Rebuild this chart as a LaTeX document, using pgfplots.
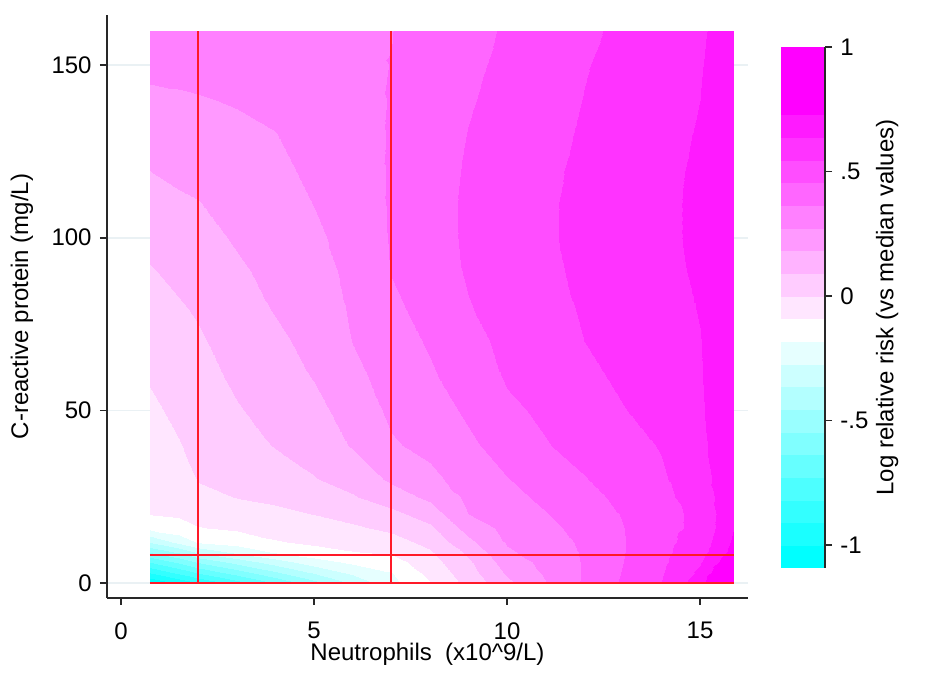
\documentclass[border=0pt]{standalone}
\usepackage{fontspec}
\setmainfont{Liberation Sans}
\usepackage{pgfplots}
\pgfplotsset{compat=1.18}
\definecolor{gridc}{RGB}{234,241,244}
\definecolor{axc}{RGB}{40,40,40}
\definecolor{refred}{RGB}{255,25,40}
\begin{document}
\fontsize{12}{14.4}\selectfont
\begin{tikzpicture}
\path[use as bounding box] (0,0) rectangle (472pt,345pt);
\begin{axis}[
  at={(53.5pt,46pt)}, anchor=south west,
  scale only axis, width=320.5pt, height=291.5pt,
  xmin=-0.363, xmax=16.243, ymin=-4.34, ymax=164.5,
  axis lines*=left,
  axis line style={axc, line width=0.8pt},
  xtick={0,5,10,15}, ytick={0,50,100,150},
  tick align=outside, major tick length=3.5pt,
  tick style={axc, line width=0.8pt},
  /pgf/number format/assume math mode=true,
  xticklabel style={yshift=-4.5pt},
  ymajorgrids, grid style={gridc, line width=0.8pt},
  xlabel={Neutrophils\ \ (x10\textasciicircum 9/L)},
  ylabel={C-reactive protein (mg/L)},
  every axis x label/.style={at={(axis description cs:0.5,-0.096)}, anchor=center},
  every axis y label/.style={at={(axis description cs:-0.1326,0.5)}, anchor=center, rotate=90},
  colormap={stata}{rgb255(0pt)=(0,255,255) rgb255(1pt)=(26,255,255) rgb255(2pt)=(51,255,255)
    rgb255(3pt)=(77,255,255) rgb255(4pt)=(102,255,255) rgb255(5pt)=(128,255,255)
    rgb255(6pt)=(153,255,255) rgb255(7pt)=(179,255,255) rgb255(8pt)=(204,255,255)
    rgb255(9pt)=(230,255,255) rgb255(10pt)=(255,255,255) rgb255(11pt)=(255,230,255)
    rgb255(12pt)=(255,204,255) rgb255(13pt)=(255,179,255) rgb255(14pt)=(255,153,255)
    rgb255(15pt)=(255,128,255) rgb255(16pt)=(255,102,255) rgb255(17pt)=(255,77,255)
    rgb255(18pt)=(255,51,255) rgb255(19pt)=(255,26,255) rgb255(20pt)=(255,0,255)
    rgb255(21pt)=(255,0,255) rgb255(22pt)=(255,0,255) rgb255(23pt)=(255,0,255)},
  colormap access=piecewise constant,
  point meta min=-1.093, point meta max=1.0,
  colorbar,
  colorbar style={
    at={(parent axis.south east)}, anchor=south west, xshift=8pt, yshift=15pt,
    scale only axis, width=22pt, height=260.5pt,
    axis x line=none, axis y line*=right,
    axis line style={axc, line width=0.8pt},
    ytick={-1,-0.5,0,0.5,1}, yticklabels={-1,-.5,0,.5,1},
    tick align=outside, major tick length=3.5pt,
    tick style={axc, line width=0.8pt},
    yticklabel style={anchor=west},
    ylabel={Log relative risk (vs median values)},
    every axis y label/.style={at={(axis description cs:2.41,0.5)}, anchor=center, rotate=90},
  },
]
\addplot[surf, shader=interp, mesh/rows=22, mesh/cols=17, mesh/ordering=y varies, point meta=explicit]
table[x=x, y=y, meta=z] {
x y z
0.75 0 -1.091
0.75 3 -0.911
0.75 6 -0.724
0.75 9 -0.538
0.75 12 -0.356
0.75 16 -0.158
0.75 20 -0.090
0.75 25 -0.078
0.75 30 -0.066
0.75 40 -0.042
0.75 50 -0.017
0.75 60 0.007
0.75 70 0.033
0.75 80 0.057
0.75 90 0.083
0.75 100 0.115
0.75 110 0.148
0.75 120 0.183
0.75 130 0.220
0.75 140 0.257
0.75 150 0.290
0.75 160 0.322
1.5 0 -0.987
1.5 3 -0.803
1.5 6 -0.620
1.5 9 -0.438
1.5 12 -0.247
1.5 16 -0.120
1.5 20 -0.082
1.5 25 -0.063
1.5 30 -0.044
1.5 40 -0.005
1.5 50 0.018
1.5 60 0.040
1.5 70 0.061
1.5 80 0.083
1.5 90 0.109
1.5 100 0.139
1.5 110 0.169
1.5 120 0.200
1.5 130 0.231
1.5 140 0.263
1.5 150 0.292
1.5 160 0.324
2 0 -0.917
2 3 -0.727
2 6 -0.537
2 9 -0.348
2 12 -0.175
2 16 -0.096
2 20 -0.062
2 25 -0.023
2 30 0.004
2 40 0.022
2 50 0.041
2 60 0.060
2 70 0.079
2 80 0.100
2 90 0.126
2 100 0.153
2 110 0.178
2 120 0.207
2 130 0.237
2 140 0.267
2 150 0.297
2 160 0.327
3 0 -0.775
3 3 -0.600
3 6 -0.423
3 9 -0.248
3 12 -0.145
3 16 -0.078
3 20 -0.041
3 25 0.002
3 30 0.018
3 40 0.051
3 50 0.084
3 60 0.106
3 70 0.127
3 80 0.148
3 90 0.168
3 100 0.190
3 110 0.212
3 120 0.234
3 130 0.255
3 140 0.278
3 150 0.307
3 160 0.336
4 0 -0.634
4 3 -0.477
4 6 -0.320
4 9 -0.173
4 12 -0.099
4 16 -0.057
4 20 -0.020
4 25 0.016
4 30 0.045
4 40 0.095
4 50 0.118
4 60 0.142
4 70 0.165
4 80 0.187
4 90 0.203
4 100 0.220
4 110 0.237
4 120 0.254
4 130 0.270
4 140 0.293
4 150 0.317
4 160 0.340
5 0 -0.493
5 3 -0.359
5 6 -0.223
5 9 -0.125
5 12 -0.075
5 16 -0.037
5 20 0.001
5 25 0.044
5 30 0.086
5 40 0.122
5 50 0.156
5 60 0.186
5 70 0.204
5 80 0.221
5 90 0.239
5 100 0.257
5 110 0.274
5 120 0.289
5 130 0.304
5 140 0.319
5 150 0.334
5 160 0.349
6 0 -0.352
6 3 -0.255
6 6 -0.164
6 9 -0.095
6 12 -0.059
6 16 -0.014
6 20 0.030
6 25 0.083
6 30 0.125
6 40 0.190
6 50 0.220
6 60 0.249
6 70 0.275
6 80 0.284
6 90 0.293
6 100 0.302
6 110 0.311
6 120 0.320
6 130 0.330
6 140 0.339
6 150 0.348
6 160 0.357
7 0 -0.210
7 3 -0.187
7 6 -0.131
7 9 -0.078
7 12 -0.036
7 16 0.017
7 20 0.065
7 25 0.137
7 30 0.196
7 40 0.263
7 50 0.288
7 60 0.308
7 70 0.328
7 80 0.348
7 90 0.365
7 100 0.369
7 110 0.371
7 120 0.370
7 130 0.368
7 140 0.366
7 150 0.364
7 160 0.361
8 0 -0.097
8 3 -0.067
8 6 -0.038
8 9 -0.010
8 12 0.025
8 16 0.073
8 20 0.132
8 25 0.201
8 30 0.251
8 40 0.295
8 50 0.324
8 60 0.353
8 70 0.372
8 80 0.390
8 90 0.404
8 100 0.415
8 110 0.418
8 120 0.415
8 130 0.410
8 140 0.405
8 150 0.400
8 160 0.397
9 0 0.026
9 3 0.050
9 6 0.075
9 9 0.107
9 12 0.157
9 16 0.216
9 20 0.271
9 25 0.290
9 30 0.309
9 40 0.347
9 50 0.377
9 60 0.401
9 70 0.425
9 80 0.449
9 90 0.463
9 100 0.468
9 110 0.468
9 120 0.463
9 130 0.456
9 140 0.447
9 150 0.439
9 160 0.429
10 0 0.159
10 3 0.193
10 6 0.227
10 9 0.260
10 12 0.280
10 16 0.298
10 20 0.316
10 25 0.338
10 30 0.360
10 40 0.400
10 50 0.439
10 60 0.463
10 70 0.477
10 80 0.488
10 90 0.495
10 100 0.500
10 110 0.500
10 120 0.495
10 130 0.489
10 140 0.479
10 150 0.470
10 160 0.463
11 0 0.270
11 3 0.284
11 6 0.297
11 9 0.310
11 12 0.324
11 16 0.342
11 20 0.360
11 25 0.382
11 30 0.405
11 40 0.450
11 50 0.469
11 60 0.486
11 70 0.501
11 80 0.516
11 90 0.530
11 100 0.536
11 110 0.536
11 120 0.531
11 130 0.522
11 140 0.513
11 150 0.504
11 160 0.496
12 0 0.372
12 3 0.370
12 6 0.370
12 9 0.372
12 12 0.377
12 16 0.390
12 20 0.408
12 25 0.431
12 30 0.450
12 40 0.481
12 50 0.504
12 60 0.527
12 70 0.545
12 80 0.554
12 90 0.560
12 100 0.563
12 110 0.563
12 120 0.560
12 130 0.554
12 140 0.547
12 150 0.540
12 160 0.529
13 0 0.466
13 3 0.459
13 6 0.453
13 9 0.450
13 12 0.449
13 16 0.452
13 20 0.459
13 25 0.472
13 30 0.490
13 40 0.518
13 50 0.542
13 60 0.559
13 70 0.572
13 80 0.581
13 90 0.588
13 100 0.590
13 110 0.590
13 120 0.588
13 130 0.583
13 140 0.577
13 150 0.570
13 160 0.562
14 0 0.545
14 3 0.536
14 6 0.527
14 9 0.522
14 12 0.520
14 16 0.520
14 20 0.521
14 25 0.525
14 30 0.533
14 40 0.550
14 50 0.572
14 60 0.590
14 70 0.604
14 80 0.613
14 90 0.618
14 100 0.622
14 110 0.622
14 120 0.621
14 130 0.616
14 140 0.609
14 150 0.600
14 160 0.595
15 0 0.682
15 3 0.654
15 6 0.627
15 9 0.600
15 12 0.581
15 16 0.563
15 20 0.563
15 25 0.581
15 30 0.600
15 40 0.618
15 50 0.627
15 60 0.631
15 70 0.634
15 80 0.639
15 90 0.645
15 100 0.648
15 110 0.648
15 120 0.645
15 130 0.641
15 140 0.636
15 150 0.633
15 160 0.630
15.88 0 0.991
15.88 3 0.882
15.88 6 0.809
15.88 9 0.763
15.88 12 0.745
15.88 16 0.727
15.88 20 0.718
15.88 25 0.709
15.88 30 0.704
15.88 40 0.700
15.88 50 0.695
15.88 60 0.691
15.88 70 0.691
15.88 80 0.691
15.88 90 0.691
15.88 100 0.691
15.88 110 0.691
15.88 120 0.686
15.88 130 0.682
15.88 140 0.672
15.88 150 0.663
15.88 160 0.659
};
\addplot[refred, line width=0.9pt] coordinates {(2,0) (2,160)};
\addplot[refred, line width=0.9pt] coordinates {(7,0) (7,160)};
\addplot[refred, line width=0.9pt] coordinates {(0.75,8) (15.88,8)};
\addplot[refred, line width=0.9pt] coordinates {(0.75,0) (15.88,0)};
\end{axis}
\end{tikzpicture}
\end{document}
